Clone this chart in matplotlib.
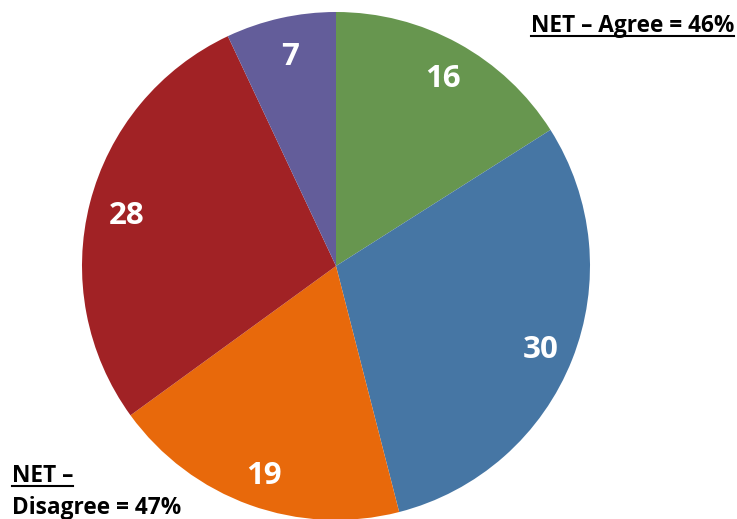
import matplotlib
matplotlib.use("Agg")
import matplotlib.pyplot as plt
from matplotlib.lines import Line2D
from matplotlib.transforms import ScaledTranslation

categories = ["Agree strongly", "Agree somewhat", "Disagree somewhat", "Disagree strongly", "Don't know"]
values = [16, 30, 19, 28, 7]
colors = ["#67964F", "#4676A4", "#E8690B", "#A12225", "#635D9A"]
net_agree_label = "NET \u2013 Agree = 46%"
net_disagree_top = "NET \u2013"
net_disagree_bottom = "Disagree = 47%"

W, H = 737, 519
fig = plt.figure(figsize=(W / 100, H / 100), dpi=100)
cx, cy, r = 336, 266, 254
ax = fig.add_axes([(cx - r) / W, (H - cy - r) / H, 2 * r / W, 2 * r / H])
wedges, texts = ax.pie(values, colors=colors, startangle=90, counterclock=False,
                       labels=[str(v) for v in values], labeldistance=0.86,
                       radius=1, wedgeprops=dict(linewidth=0))
shift = ScaledTranslation(2 / 100, -4 / 100, fig.dpi_scale_trans)
for t in texts:
    t.set_color("white")
    t.set_fontsize(22.5)
    t.set_fontweight("bold")
    t.set_fontfamily("Open Sans")
    t.set_horizontalalignment("center")
    t.set_verticalalignment("center")
    t.set_transform(ax.transData + shift)
ax.set_xlim(-1, 1)
ax.set_ylim(-1, 1)
ax.set_aspect("auto")
ax.axis("off")

fp = dict(fontsize=16.3, fontweight="bold", fontfamily="Open Sans", color="black")
t1 = fig.text(734 / W, 1 - 26 / H, net_agree_label, ha="right", va="center", **fp)
t2 = fig.text(12 / W, 1 - 476 / H, net_disagree_top, ha="left", va="center", **fp)
t3 = fig.text(12 / W, 1 - 508 / H, net_disagree_bottom, ha="left", va="center", **fp)

fig.canvas.draw()
renderer = fig.canvas.get_renderer()
for t in (t1, t2):
    bb = t.get_window_extent(renderer)
    y = bb.y0 + 2
    fig.add_artist(Line2D([bb.x0 / W, bb.x1 / W], [y / H, y / H], color="black",
                          linewidth=1.5, transform=fig.transFigure))

fig.savefig("out.png", dpi=100)
